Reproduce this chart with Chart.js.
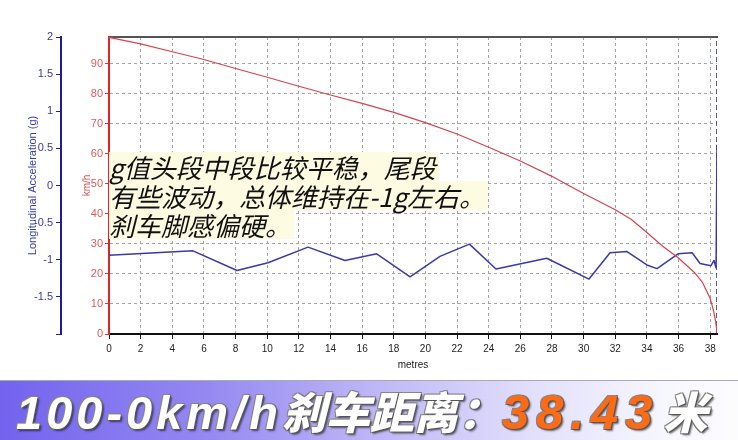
<!DOCTYPE html>
<html><head><meta charset="utf-8">
<script src="https://cdn.jsdelivr.net/npm/chart.js@4.4.1/dist/chart.umd.min.js"></script>
<style>
html,body{margin:0;padding:0;background:#fff;width:738px;height:440px;overflow:hidden;}
#wrap{position:relative;width:738px;height:440px;}
#c{position:absolute;left:0;top:0;}
#note{position:absolute;left:109px;top:152px;font-family:"Noto Sans CJK SC","Noto Sans",sans-serif;font-size:26px;font-style:italic;color:#111;}
#note .ln{display:table;background:#fdfbe2;height:29px;line-height:29px;padding-right:3px;white-space:nowrap;}
#banner{position:absolute;left:0;top:380px;width:738px;height:59px;border-top:1px solid #a8a8b8;
  background:linear-gradient(to right,#7363ee 0%,#9588f1 28%,#bdb5f6 50%,#e2dffb 72%,#f7f7fe 90%,#fcfcff 100%);}
#btxt{position:absolute;left:16px;top:6px;white-space:nowrap;line-height:46px;height:46px;
  text-shadow:1px 1px 0 #555,-1px -1px 0 #888,1px -1px 0 #777,-1px 1px 0 #777,2px 2px 2px rgba(0,0,0,.55);}
.lat{font-family:"Liberation Sans",Arial,sans-serif;font-weight:bold;font-style:italic;font-size:47px;color:#fff;letter-spacing:4px;}
.cjk{font-family:"Noto Sans CJK SC",sans-serif;font-weight:900;font-style:italic;font-size:44px;color:#fff;}
.num{font-family:"Liberation Sans",Arial,sans-serif;font-weight:bold;font-style:italic;font-size:49px;color:#ff6a12;letter-spacing:7px;}
.mi{margin-left:4px;}
</style>
</head>
<body>
<div id="wrap">
<canvas id="c" width="738" height="380"></canvas>
<div id="note">
<div class="ln">g值头段中段比较平稳，尾段</div>
<div class="ln">有些波动，总体维持在-1g左右。</div>
<div class="ln">刹车脚感偏硬。</div>
</div>
<div id="banner"><div id="btxt"><span class="lat">100-0km/h</span><span class="cjk">刹车距离：</span><span class="num">38.43</span><span class="cjk mi">米</span></div></div>
</div>
<script>
// Speed (km/h) vs distance (metres)
const speedDist = [0, 2, 4, 6, 8, 10, 12, 14, 16, 18, 20, 22, 24, 26, 28, 29, 30, 32, 33, 34, 35, 36, 37, 37.5, 38, 38.2, 38.35, 38.43];
const speedKmh  = [98.8, 96.6, 94.0, 91.4, 88.4, 85.5, 82.5, 79.6, 76.8, 73.8, 70.4, 66.6, 62.2, 57.6, 52.5, 49.6, 46.8, 41.4, 38.2, 33.8, 29.2, 25.3, 20.5, 17.3, 11.8, 8.0, 4.0, 0.5];

// Longitudinal acceleration (g) vs distance (metres)
const accDist = [0, 5.31, 8.09, 10.05, 12.58, 14.92, 16.92, 19.03, 20.92, 22.78, 24.46, 27.67, 30.34, 31.67, 32.74, 34.0, 34.64, 35.97, 36.86, 37.36, 38.05, 38.24, 38.37, 38.43];
const accG    = [-0.94, -0.88, -1.145, -1.04, -0.83, -1.01, -0.92, -1.23, -0.955, -0.79, -1.125, -0.98, -1.26, -0.905, -0.89, -1.07, -1.12, -0.92, -0.905, -1.05, -1.08, -1.01, -1.11, 0.55];

// End-of-stop marker
const markerDist = [38.43, 38.43];
const markerG    = [-2, 2];

// Axis settings
const distMax = 38.43, distStep = 2;
const speedMin = 0, speedMax = 98.9, speedStep = 10;
const accMin = -2, accMax = 2, accStep = 0.5;
const accHiddenLabels = [-2];

const pts = (xs, ys) => xs.map((x, i) => ({x, y: ys[i]}));
const FONT = 'Liberation Sans';
const gridCol = (c) => (c.tick && c.tick.value === 0) ? 'rgba(0,0,0,0)' : '#a4a4a4';

new Chart(document.getElementById('c'), {
  type: 'line',
  data: {
    datasets: [
      {label: 'speed', data: pts(speedDist, speedKmh), xAxisID: 'x', yAxisID: 'y',
       borderColor: '#d8424e', borderWidth: 1.2, pointRadius: 0, tension: 0, fill: false},
      {label: 'acc', data: pts(accDist, accG), xAxisID: 'x', yAxisID: 'y1',
       borderColor: '#3a3aaa', borderWidth: 1.5, pointRadius: 0, tension: 0, fill: false},
      {label: 'marker', data: pts(markerDist, markerG), xAxisID: 'x', yAxisID: 'y1',
       borderColor: '#1c2a70', borderWidth: 1.5, borderDash: [5, 3], pointRadius: 0, fill: false}
    ]
  },
  options: {
    responsive: false,
    animation: false,
    layout: {padding: {left: 0, right: 21, top: 0, bottom: 0}},
    plugins: {legend: {display: false}, tooltip: {enabled: false}},
    elements: {line: {borderJoinStyle: 'round'}},
    scales: {
      x: {
        type: 'linear', position: 'bottom', min: 0, max: distMax,
        ticks: {stepSize: distStep, includeBounds: false, color: '#222', font: {family: FONT, size: 10}, padding: 4, maxRotation: 0, autoSkip: false},
        grid: {color: gridCol, tickColor: '#111', tickLength: 5, lineWidth: 1},
        border: {color: '#111', width: 2, dash: [3, 3]},
        title: {display: true, text: 'metres', color: '#222', font: {family: FONT, size: 10}, padding: {top: 0, bottom: 9}},
        afterFit: s => { s.height = 46; }
      },
      xTop: {
        type: 'linear', position: 'top', min: 0, max: distMax,
        ticks: {display: false}, grid: {display: false},
        border: {color: '#555', width: 2},
        afterFit: s => { s.height = 37; }
      },
      y: {
        type: 'linear', position: 'left', weight: 0, min: speedMin, max: speedMax,
        ticks: {stepSize: speedStep, includeBounds: false, color: '#e05a5a', font: {family: FONT, size: 11}, padding: 2},
        grid: {color: gridCol, tickColor: '#e03030', tickLength: 4, lineWidth: 1},
        border: {color: '#e02424', width: 2, dash: [3, 3]},
        title: {display: true, text: 'km/h', color: '#e05050', font: {family: FONT, size: 10}, padding: {top: 20, bottom: 0}},
        afterFit: s => { s.width = 48; }
      },
      y1: {
        type: 'linear', position: 'left', weight: 1, min: accMin, max: accMax,
        ticks: {stepSize: accStep, color: '#3a3a9c', font: {family: FONT, size: 11}, padding: 3,
          callback: v => accHiddenLabels.includes(v) ? '' : String(v)},
        grid: {drawOnChartArea: false, tickColor: '#22229a', tickLength: 5},
        border: {color: '#1c1c9c', width: 2},
        title: {display: true, text: 'Longitudinal Acceleration (g)', color: '#3a3aa8', font: {family: FONT, size: 11}, padding: {top: 26, bottom: 0}},
        afterFit: s => { s.width = 61; }
      }
    }
  }
});
</script>
</body></html>
